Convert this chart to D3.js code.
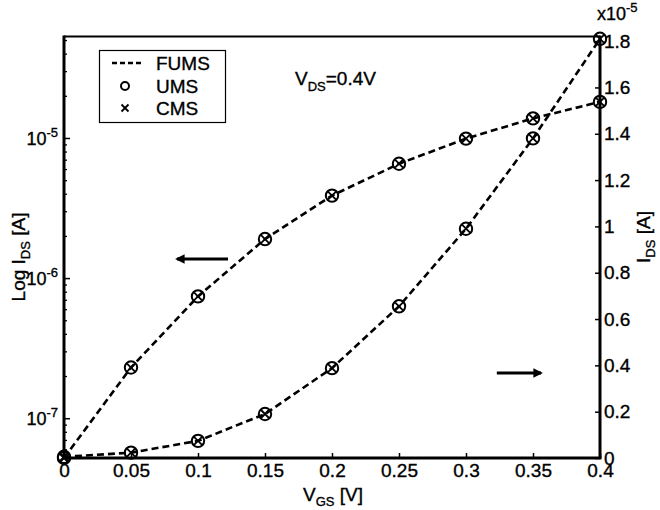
<!DOCTYPE html>
<html lang="en">
<head>
    <meta charset="UTF-8">
    <script src="https://d3js.org/d3.v7.min.js"></script>
    <title>IDS vs VGS</title>
    <style>
        body { margin: 0; background: #fff; }
        svg text { font-family: "Liberation Sans", Arial, sans-serif; fill: #000; stroke: #000; stroke-width: 0.35px; }
    </style>
</head>
<body>
    <script>
        // V_GS sweep and drain current (same data on log and linear axes)
        var vgs = [0, 0.05, 0.1, 0.15, 0.2, 0.25, 0.3, 0.35, 0.4]
        var ids = [5.2e-8, 2.3e-7, 7.4e-7, 1.9e-6, 3.88e-6, 6.55e-6, 9.9e-6, 1.38e-5, 1.81e-5]

        var xTicks = [0, 0.05, 0.1, 0.15, 0.2, 0.25, 0.3, 0.35, 0.4]
        var logTicks = [1e-7, 1e-6, 1e-5]
        var logExp = ["-7", "-6", "-5"]
        var linTicks = [0, 0.2e-5, 0.4e-5, 0.6e-5, 0.8e-5, 1e-5, 1.2e-5, 1.4e-5, 1.6e-5, 1.8e-5]
        var legendNames = ["FUMS", "UMS", "CMS"]

        // arrows in data units: [x start, x end, y value]
        var arrowLog = [0.1224, 0.0843, 1.37e-6]
        var arrowLin = [0.323, 0.356, 0.367e-5]

        var width = 660, height = 510
        var plot = { left: 64, right: 600, top: 36.5, bottom: 458 }

        var svg = d3.select("body").append("svg")
            .attr("width", width)
            .attr("height", height)

        var x = d3.scaleLinear().domain([0, 0.4]).range([plot.left, plot.right])
        var yLog = d3.scaleLog().domain([5.2e-8, 5.3e-5]).range([plot.bottom, plot.top])
        var yLin = d3.scaleLinear().domain([0, 1.82e-5]).range([plot.bottom, plot.top])

        var defs = svg.append("defs")
        defs.append("marker")
            .attr("id", "head")
            .attr("viewBox", "0 0 10 10")
            .attr("refX", 8).attr("refY", 5)
            .attr("markerWidth", 4).attr("markerHeight", 3.2)
            .attr("orient", "auto")
            .append("path")
            .attr("d", "M0,0 L10,5 L0,10 Z")
            .attr("fill", "#000")

        // axes
        var fs = 19
        var gx = svg.append("g")
            .attr("transform", "translate(0," + plot.bottom + ")")
            .call(d3.axisBottom(x).tickValues(xTicks).tickSize(-5).tickPadding(6)
                .tickFormat(function (d) { return String(+d.toFixed(2)) }))
        gx.select(".domain").remove()
        gx.selectAll("text").attr("font-size", fs)
        gx.selectAll("line").attr("stroke-width", 1.5)

        var minor = yLog.ticks().filter(function (d) { return logTicks.indexOf(d) < 0 })
        var gyMinor = svg.append("g")
            .attr("transform", "translate(" + plot.left + ",0)")
            .call(d3.axisLeft(yLog).tickValues(minor).tickSize(-3).tickFormat(""))
        gyMinor.select(".domain").remove()
        gyMinor.selectAll("line").attr("stroke-width", 1.3)

        var gy = svg.append("g")
            .attr("transform", "translate(" + plot.left + ",0)")
            .call(d3.axisLeft(yLog).tickValues(logTicks).tickSize(-6).tickPadding(6).tickFormat(""))
        gy.select(".domain").remove()
        gy.selectAll("line").attr("stroke-width", 1.5)
        gy.selectAll(".tick text").each(function (d, i) {
            var t = d3.select(this)
            t.attr("font-size", 18).attr("dy", "0.35em")
            t.append("tspan").text("10")
            t.append("tspan").attr("font-size", 13).attr("dy", "-0.6em").text(logExp[i])
        })

        var gr = svg.append("g")
            .attr("transform", "translate(" + plot.right + ",0)")
            .call(d3.axisRight(yLin).tickValues(linTicks).tickSize(-5).tickPadding(4)
                .tickFormat(function (d) { return String(+(d * 1e5).toFixed(1)) }))
        gr.select(".domain").remove()
        gr.selectAll("text").attr("font-size", fs)
        gr.selectAll("line").attr("stroke-width", 1.5)

        // frame
        svg.append("line").attr("x1", plot.left).attr("x2", plot.right)
            .attr("y1", plot.top).attr("y2", plot.top)
            .attr("stroke", "#000").attr("stroke-width", 2)
        svg.append("line").attr("x1", plot.left - 1.5).attr("x2", plot.right + 1.5)
            .attr("y1", plot.bottom).attr("y2", plot.bottom)
            .attr("stroke", "#000").attr("stroke-width", 3)
        svg.append("line").attr("x1", plot.left).attr("x2", plot.left)
            .attr("y1", plot.top - 1).attr("y2", plot.bottom)
            .attr("stroke", "#000").attr("stroke-width", 3)
        svg.append("line").attr("x1", plot.right).attr("x2", plot.right)
            .attr("y1", plot.top - 1).attr("y2", plot.bottom)
            .attr("stroke", "#000").attr("stroke-width", 3)

        // curves
        var pts = vgs.map(function (v, i) { return [v, ids[i]] })
        var lineLog = d3.line().x(function (d) { return x(d[0]) }).y(function (d) { return yLog(d[1]) })
        var lineLin = d3.line().x(function (d) { return x(d[0]) }).y(function (d) { return yLin(d[1]) })

        svg.append("path").attr("d", lineLog(pts))
            .attr("fill", "none").attr("stroke", "#000")
            .attr("stroke-width", 2.6).attr("stroke-dasharray", "7,4")
        svg.append("path").attr("d", lineLin(pts))
            .attr("fill", "none").attr("stroke", "#000")
            .attr("stroke-width", 2.6).attr("stroke-dasharray", "7,4")

        function drawMarkers(scale) {
            var g = svg.append("g").selectAll("g")
                .data(pts)
                .enter()
                .append("g")
                .attr("transform", function (d) { return "translate(" + x(d[0]) + "," + scale(d[1]) + ")" })
            g.append("circle").attr("r", 6.2)
                .attr("fill", "none").attr("stroke", "#000").attr("stroke-width", 2)
            g.append("path").attr("d", "M-4,-4L4,4M-4,4L4,-4")
                .attr("stroke", "#000").attr("stroke-width", 1.8)
        }
        drawMarkers(yLog)
        drawMarkers(yLin)

        // arrows
        svg.append("line")
            .attr("x1", x(arrowLog[0])).attr("x2", x(arrowLog[1]))
            .attr("y1", yLog(arrowLog[2])).attr("y2", yLog(arrowLog[2]))
            .attr("stroke", "#000").attr("stroke-width", 3).attr("marker-end", "url(#head)")
        svg.append("line")
            .attr("x1", x(arrowLin[0])).attr("x2", x(arrowLin[1]))
            .attr("y1", yLin(arrowLin[2])).attr("y2", yLin(arrowLin[2]))
            .attr("stroke", "#000").attr("stroke-width", 3).attr("marker-end", "url(#head)")

        // legend
        var lg = svg.append("g")
        lg.append("rect").attr("x", 99.5).attr("y", 50.5).attr("width", 126).attr("height", 72)
            .attr("fill", "#fff").attr("stroke", "#000").attr("stroke-width", 1.2)
        var rowY = [63, 86, 108]
        lg.append("line").attr("x1", 112).attr("x2", 141).attr("y1", rowY[0]).attr("y2", rowY[0])
            .attr("stroke", "#000").attr("stroke-width", 2.6).attr("stroke-dasharray", "5,3")
        lg.append("circle").attr("cx", 125).attr("cy", rowY[1]).attr("r", 4)
            .attr("fill", "none").attr("stroke", "#000").attr("stroke-width", 2)
        lg.append("path").attr("d", "M121.5," + (rowY[2] - 3.5) + "l7,7m-7,0l7,-7")
            .attr("stroke", "#000").attr("stroke-width", 1.8)
        lg.selectAll("text.lab")
            .data(legendNames)
            .enter()
            .append("text")
            .attr("class", "lab")
            .attr("x", 156).attr("y", function (d, i) { return rowY[i] })
            .attr("dy", "0.36em")
            .attr("font-size", fs)
            .text(function (d) { return d })

        // V_DS annotation
        var vt = svg.append("text").attr("x", 295).attr("y", 85).attr("font-size", fs)
        vt.append("tspan").text("V")
        vt.append("tspan").attr("font-size", 13).attr("dy", 6).text("DS")
        vt.append("tspan").attr("dy", -6).text("=0.4V")

        // exponent on right axis
        var ex = svg.append("text").attr("x", 597).attr("y", 20).attr("font-size", 18)
        ex.append("tspan").text("x10")
        ex.append("tspan").attr("font-size", 13).attr("dy", -8).text("-5")

        // axis titles
        var xl = svg.append("text").attr("x", 333).attr("y", 501)
            .attr("text-anchor", "middle").attr("font-size", fs)
        xl.append("tspan").text("V")
        xl.append("tspan").attr("font-size", 13).attr("dy", 5).text("GS")
        xl.append("tspan").attr("dy", -5).text(" [V]")

        var yl = svg.append("text")
            .attr("transform", "translate(25,257) rotate(-90)")
            .attr("text-anchor", "middle").attr("font-size", fs)
        yl.append("tspan").text("Log I")
        yl.append("tspan").attr("font-size", 13).attr("dy", 5).text("DS")
        yl.append("tspan").attr("dy", -5).text(" [A]")

        var yr = svg.append("text")
            .attr("transform", "translate(650,237) rotate(-90)")
            .attr("text-anchor", "middle").attr("font-size", fs)
        yr.append("tspan").text("I")
        yr.append("tspan").attr("font-size", 13).attr("dy", 5).text("DS")
        yr.append("tspan").attr("dy", -5).text(" [A]")
    </script>
</body>
</html>
